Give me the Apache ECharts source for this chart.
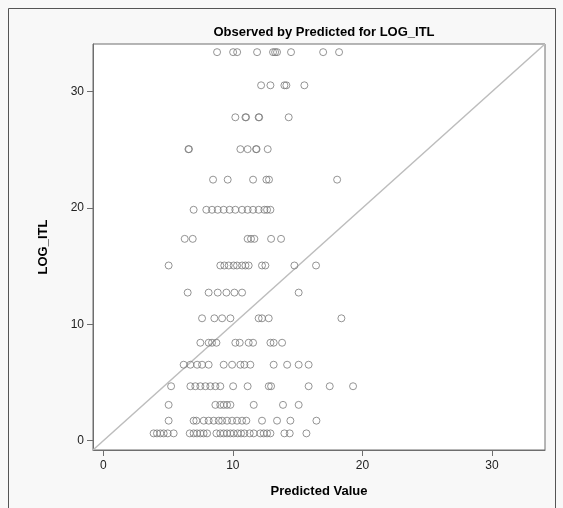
<!DOCTYPE html>
<html>
<head>
<meta charset="utf-8">
<script src="https://cdn.jsdelivr.net/npm/echarts@6/dist/echarts.min.js"></script>
<style>
html,body{margin:0;padding:0;background:#f8f8f8;}
#c{width:563px;height:508px;}
</style>
</head>
<body>
<div id="c"></div>
<script>
// Observed LOG_ITL levels (one per row of points)
const yLevels = [33.4, 30.55, 27.8, 25.06, 22.44, 19.85, 17.35, 15.06, 12.73, 10.52, 8.42, 6.53, 4.68, 3.08, 1.72, 0.63];
// Predicted values for each observed level
const row0  = [8.78, 10.02, 10.33, 11.87, 13.10, 13.26, 13.41, 14.49, 16.97, 18.20];
const row1  = [12.18, 12.90, 13.98, 14.13, 15.52];
const row2  = [10.19, 10.97, 11.02, 11.99, 12.03, 14.31];
const row3  = [6.57, 6.61, 10.58, 11.14, 11.79, 11.83, 12.69];
const row4  = [8.47, 9.60, 11.56, 12.59, 12.79, 18.05];
const row5  = [6.97, 7.95, 8.39, 8.83, 9.29, 9.75, 10.19, 10.71, 11.14, 11.56, 11.99, 12.43, 12.64, 12.90];
const row6  = [6.28, 6.90, 11.14, 11.40, 11.66, 12.95, 13.72];
const row7  = [5.04, 9.03, 9.34, 9.68, 10.06, 10.32, 10.71, 10.97, 11.22, 12.25, 12.51, 14.75, 16.42];
const row8  = [6.51, 8.13, 8.83, 9.50, 10.12, 10.71, 15.08];
const row9  = [7.62, 8.57, 9.17, 9.81, 11.99, 12.25, 12.77, 18.38];
const row10 = [7.49, 8.13, 8.39, 8.73, 10.19, 10.53, 11.22, 11.56, 12.90, 13.15, 13.80];
const row11 = [6.20, 6.72, 7.24, 7.62, 8.13, 9.29, 9.94, 10.58, 10.89, 11.35, 13.15, 14.19, 15.08, 15.85];
const row12 = [5.23, 6.72, 7.10, 7.49, 7.88, 8.26, 8.65, 9.03, 10.02, 11.14, 12.77, 12.95, 15.85, 17.48, 19.28];
const row13 = [5.04, 8.65, 9.03, 9.29, 9.55, 9.81, 11.61, 13.87, 15.08];
const row14 = [5.04, 6.97, 7.18, 7.75, 8.13, 8.52, 8.91, 9.17, 9.55, 9.94, 10.32, 10.71, 11.04, 12.25, 13.41, 14.44, 16.45];
const row15 = [3.88, 4.14, 4.40, 4.66, 4.97, 5.43, 6.67, 6.97, 7.23, 7.49, 7.74, 8.01, 8.73, 9.03, 9.29, 9.55, 9.81, 10.06, 10.37, 10.63, 10.89, 11.30, 11.61, 12.12, 12.38, 12.64, 12.90, 13.98, 14.39, 15.68];
const rows = [row0,row1,row2,row3,row4,row5,row6,row7,row8,row9,row10,row11,row12,row13,row14,row15];

const xTicks = [0, 10, 20, 30];
const yTicks = [0, 10, 20, 30];
const axisMin = -0.8, axisMax = 34.1;

const points = [];
rows.forEach((r, i) => r.forEach(x => points.push([x, yLevels[i]])));

const chart = echarts.init(document.getElementById('c'), null, {renderer: 'canvas'});
const font = '"Liberation Sans", Arial, sans-serif';
const axisCommon = {
  type: 'value', min: axisMin, max: axisMax,
  axisLine: {show: true, onZero: false, lineStyle: {color: '#6e6e6e', width: 1}},
  axisTick: {show: true, length: 6, lineStyle: {color: '#6e6e6e'}},
  splitLine: {show: false},
  nameLocation: 'middle',
  nameTextStyle: {fontFamily: font, fontWeight: 'bold', fontSize: 13, color: '#000'}
};
chart.setOption({
  backgroundColor: '#f8f8f8',
  animation: false,
  title: {
    text: 'Observed by Predicted for LOG_ITL',
    left: 319, top: 21, textAlign: 'center',
    textStyle: {fontFamily: font, fontWeight: 'bold', fontSize: 13, color: '#000'}
  },
  graphic: [{
    type: 'rect', shape: {x: 8.5, y: 8.5, width: 547, height: 520},
    style: {fill: 'none', stroke: '#555', lineWidth: 1}, silent: true, z: -1
  }],
  grid: {left: 93, top: 44, width: 452, height: 406, show: true,
         backgroundColor: '#ffffff', borderColor: '#6e6e6e', borderWidth: 1},
  xAxis: Object.assign({}, axisCommon, {
    name: 'Predicted Value', nameGap: 35,
    axisTick: Object.assign({}, axisCommon.axisTick, {customValues: xTicks}),
    axisLabel: {customValues: xTicks, margin: 10, fontFamily: font, fontSize: 12, color: '#222'}
  }),
  yAxis: Object.assign({}, axisCommon, {
    name: 'LOG_ITL', nameGap: 43,
    axisTick: Object.assign({}, axisCommon.axisTick, {customValues: yTicks}),
    axisLabel: {customValues: yTicks, margin: 9, fontFamily: font, fontSize: 12, color: '#222'}
  }),
  series: [
    {
      type: 'line', data: [[axisMin, axisMin], [axisMax, axisMax]],
      symbol: 'none', lineStyle: {color: '#bdbdbd', width: 1.5}, z: 1, silent: true
    },
    {
      type: 'scatter', data: points, symbol: 'circle', symbolSize: 7,
      itemStyle: {color: 'rgba(255,255,255,0)', borderColor: '#7a7a7a', borderWidth: 1}, z: 2
    }
  ]
});
</script>
</body>
</html>
